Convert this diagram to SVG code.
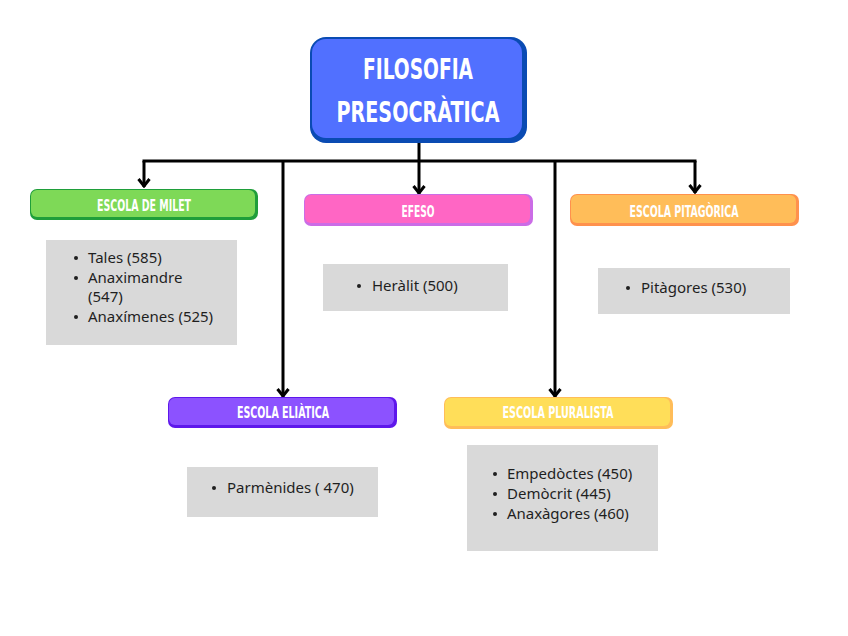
<svg xmlns="http://www.w3.org/2000/svg" width="848" height="636" viewBox="0 0 848 636">
<defs>
<style>
.hd{font-family:"Liberation Sans Narrow","DejaVu Sans Condensed","Liberation Sans",sans-serif;font-weight:bold;fill:#ffffff;text-anchor:middle}
.tt{font-family:"Liberation Sans Narrow","DejaVu Sans Condensed","Liberation Sans",sans-serif;font-weight:bold;fill:#ffffff;text-anchor:middle;font-size:29px}
.bx{fill:#d9d9d9}
.it{font-family:"Noto Sans","Open Sans",sans-serif;font-size:15px;fill:#1f1f1f}
.dot{fill:#1f1f1f}
.cn{fill:none;stroke:#000000;stroke-width:3;stroke-linecap:butt}
</style>
<marker id="arr" viewBox="0 0 12 14" refX="11" refY="7" markerWidth="12" markerHeight="14" markerUnits="userSpaceOnUse" orient="auto">
<path d="M3 1.5 L10 7 L3 12.5" fill="none" stroke="#000" stroke-width="3" stroke-linejoin="miter"/>
</marker>
</defs>
<rect width="848" height="636" fill="#ffffff"/>

<g id="connectors">
<path class="cn" d="M419 143 V161"/>
<path class="cn" d="M142.5 161 H696.5"/>
<path class="cn" d="M144 161 V187" marker-end="url(#arr)"/>
<path class="cn" d="M283 161 V397" marker-end="url(#arr)"/>
<path class="cn" d="M419 161 V194" marker-end="url(#arr)"/>
<path class="cn" d="M555 161 V397" marker-end="url(#arr)"/>
<path class="cn" d="M695 161 V193" marker-end="url(#arr)"/>
</g>

<g id="title">
<rect x="310" y="37" width="217" height="106" rx="16" fill="#0a4bb3"/>
<rect x="312" y="39" width="210" height="99" rx="14" fill="#5170ff"/>
<text class="tt" x="418" y="79" textLength="110" lengthAdjust="spacingAndGlyphs">FILOSOFIA</text>
<text class="tt" x="418" y="122" textLength="163" lengthAdjust="spacingAndGlyphs">PRESOCRÀTICA</text>
</g>

<g id="milet">
<rect x="30" y="189" width="228" height="31" rx="7" fill="#1f9e3a"/>
<rect x="31" y="190" width="224" height="27" rx="6" fill="#7ed957"/>
<text class="hd" x="144" y="211" font-size="16" textLength="94" lengthAdjust="spacingAndGlyphs">ESCOLA DE MILET</text>
</g>
<g id="milet-list">
<rect class="bx" x="46" y="240" width="191" height="105"/>
<circle class="dot" cx="76" cy="258" r="2"/>
<text class="it" x="88" y="263">Tales (585)</text>
<circle class="dot" cx="76" cy="278" r="2"/>
<text class="it" x="88" y="283">Anaximandre</text>
<text class="it" x="88" y="302">(547)</text>
<circle class="dot" cx="76" cy="317" r="2"/>
<text class="it" x="88" y="322">Anaxímenes (525)</text>
</g>

<g id="efeso">
<rect x="304" y="194" width="229" height="32" rx="7" fill="#cb6ce6"/>
<rect x="305" y="195" width="225" height="28" rx="6" fill="#ff66c4"/>
<text class="hd" x="418" y="217" font-size="16" textLength="33" lengthAdjust="spacingAndGlyphs">EFESO</text>
</g>
<g id="efeso-list">
<rect class="bx" x="323" y="264" width="185" height="47"/>
<circle class="dot" cx="359" cy="286" r="2"/>
<text class="it" x="372" y="291">Heràlit (500)</text>
</g>

<g id="pitagorica">
<rect x="570" y="194" width="229" height="32" rx="7" fill="#ff914d"/>
<rect x="571" y="195" width="225" height="28" rx="6" fill="#ffbd59"/>
<text class="hd" x="684" y="217" font-size="16" textLength="109" lengthAdjust="spacingAndGlyphs">ESCOLA PITAGÒRICA</text>
</g>
<g id="pitagorica-list">
<rect class="bx" x="598" y="268" width="192" height="46"/>
<circle class="dot" cx="628" cy="288" r="2"/>
<text class="it" x="641" y="293">Pitàgores (530)</text>
</g>

<g id="eliatica">
<rect x="168" y="397" width="229" height="31" rx="7" fill="#5e17eb"/>
<rect x="169" y="398" width="225" height="27" rx="6" fill="#8c52ff"/>
<text class="hd" x="283" y="418" font-size="16" textLength="92" lengthAdjust="spacingAndGlyphs">ESCOLA ELIÀTICA</text>
</g>
<g id="eliatica-list">
<rect class="bx" x="187" y="467" width="191" height="50"/>
<circle class="dot" cx="214" cy="488" r="2"/>
<text class="it" x="227" y="493">Parmènides ( 470)</text>
</g>

<g id="pluralista">
<rect x="444" y="397" width="229" height="32" rx="7" fill="#ffbd59"/>
<rect x="445" y="398" width="225" height="28" rx="6" fill="#ffde59"/>
<text class="hd" x="558" y="418" font-size="16" textLength="111" lengthAdjust="spacingAndGlyphs">ESCOLA PLURALISTA</text>
</g>
<g id="pluralista-list">
<rect class="bx" x="467" y="445" width="191" height="106"/>
<circle class="dot" cx="495" cy="474" r="2"/>
<text class="it" x="507" y="479">Empedòctes (450)</text>
<circle class="dot" cx="495" cy="494" r="2"/>
<text class="it" x="507" y="499">Demòcrit (445)</text>
<circle class="dot" cx="495" cy="514" r="2"/>
<text class="it" x="507" y="519">Anaxàgores (460)</text>
</g>
</svg>
